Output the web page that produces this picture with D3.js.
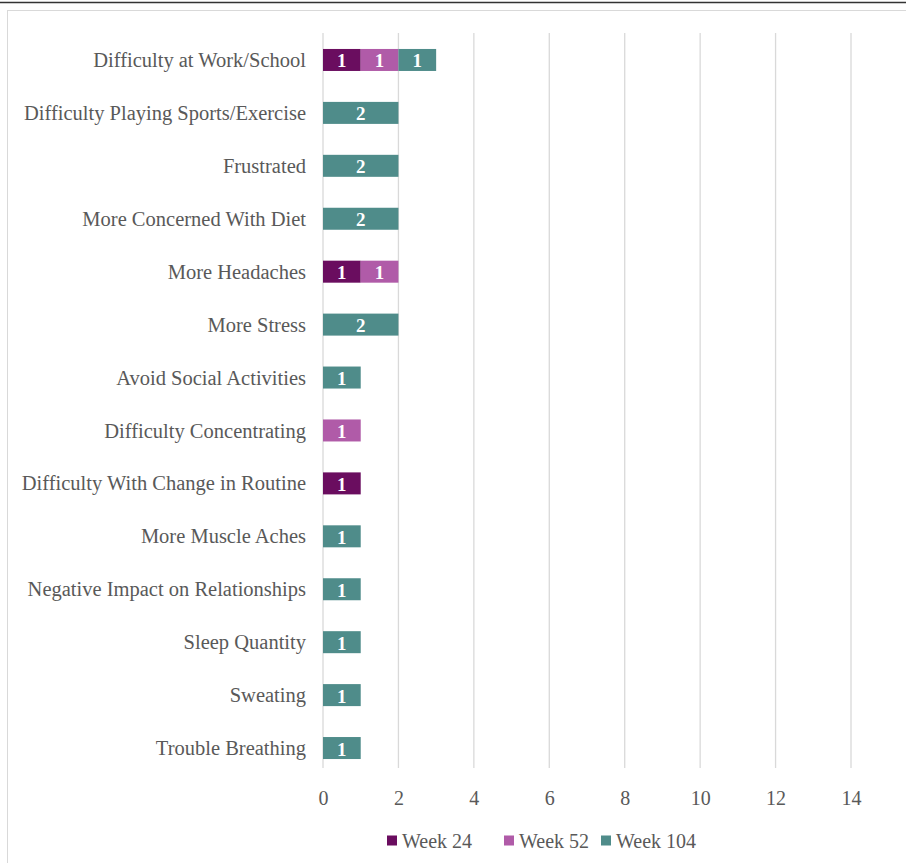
<!DOCTYPE html>
<html lang="en">
<head>
    <meta charset="utf-8" />
    <title>Symptoms by week</title>
    <script src="https://d3js.org/d3.v7.min.js"></script>
    <style>
        body { margin: 0; background: #fff; }
        text { font-family: "Liberation Serif", "Times New Roman", serif; }
        .axis text { fill: #595959; }
        .axis.y text { font-size: 20.5px; }
        .axis.x text { font-size: 20px; }
        .axis path, .axis line { display: none; }
    </style>
</head>
<body>
    <script>
        // categories, top to bottom
        const categories = [
            "Difficulty at Work/School",
            "Difficulty Playing Sports/Exercise",
            "Frustrated",
            "More Concerned With Diet",
            "More Headaches",
            "More Stress",
            "Avoid Social Activities",
            "Difficulty Concentrating",
            "Difficulty With Change in Routine",
            "More Muscle Aches",
            "Negative Impact on Relationships",
            "Sleep Quantity",
            "Sweating",
            "Trouble Breathing"
        ];
        const seriesNames = ["Week 24", "Week 52", "Week 104"];
        const week24 = [1, 0, 0, 0, 1, 0, 0, 0, 1, 0, 0, 0, 0, 0];
        const week52 = [1, 0, 0, 0, 1, 0, 0, 1, 0, 0, 0, 0, 0, 0];
        const week104 = [1, 2, 2, 2, 0, 2, 1, 0, 0, 1, 1, 1, 1, 1];
        const xTicks = [0, 2, 4, 6, 8, 10, 12, 14];
        const colors = ["#6a0d5f", "#b05ba8", "#4f8c8a"];

        const W = 906, H = 863;
        const svg = d3.select("body").append("svg").attr("width", W).attr("height", H);

        // frame
        svg.append("line").attr("x1", 0).attr("x2", W).attr("y1", 2.5).attr("y2", 2.5)
            .attr("stroke", "#333").attr("stroke-width", 1.5);
        svg.append("rect").attr("x", 7.5).attr("y", 10.5).attr("width", W + 10).attr("height", H + 10)
            .attr("fill", "none").attr("stroke", "#d9d9d9");

        const xscale = d3.scaleLinear().domain([0, 14]).range([323, 851]);
        const yscale = d3.scalePoint().domain(categories).range([33.5, 774.5]).padding(0.5);
        const barH = 22;

        // gridlines
        svg.append("g").selectAll("line").data(xTicks).join("line")
            .attr("x1", (d) => xscale(d)).attr("x2", (d) => xscale(d))
            .attr("y1", 33).attr("y2", 768)
            .attr("stroke", "#d9d9d9").attr("stroke-width", 1.3);

        // stacked data
        const rows = categories.map((c, i) => ({ cat: c, "Week 24": week24[i], "Week 52": week52[i], "Week 104": week104[i] }));
        const stacked = d3.stack().keys(seriesNames)(rows);

        const layer = svg.append("g").selectAll("g").data(stacked).join("g")
            .attr("fill", (d, i) => colors[i]);

        layer.selectAll("rect").data((d) => d.filter((p) => p[1] > p[0])).join("rect")
            .attr("x", (d) => xscale(d[0]))
            .attr("width", (d) => xscale(d[1]) - xscale(d[0]))
            .attr("y", (d) => yscale(d.data.cat) - barH / 2)
            .attr("height", barH);

        layer.selectAll("text").data((d) => d.filter((p) => p[1] > p[0])).join("text")
            .attr("x", (d) => (xscale(d[0]) + xscale(d[1])) / 2)
            .attr("y", (d) => yscale(d.data.cat) + 1)
            .attr("text-anchor", "middle")
            .attr("dominant-baseline", "central")
            .attr("fill", "#fff")
            .attr("font-weight", "bold")
            .attr("font-size", 19)
            .text((d) => d[1] - d[0]);

        // axes
        svg.append("g").attr("class", "axis y")
            .attr("transform", "translate(306,0)")
            .call(d3.axisLeft(yscale).tickSize(0).tickPadding(0));

        svg.append("g").attr("class", "axis x")
            .attr("transform", "translate(0,791)")
            .call(d3.axisBottom(xscale).tickValues(xTicks).tickSize(0).tickPadding(0));

        // legend
        const legendX = [387, 504, 601];
        const legend = svg.append("g").selectAll("g").data(seriesNames).join("g")
            .attr("transform", (d, i) => `translate(${legendX[i]},840.5)`);
        legend.append("rect").attr("x", 0).attr("y", -5).attr("width", 10).attr("height", 10)
            .attr("fill", (d, i) => colors[i]);
        legend.append("text").attr("x", 15).attr("dominant-baseline", "central")
            .attr("font-size", 20).attr("fill", "#595959").text((d) => d);
    </script>
</body>
</html>
